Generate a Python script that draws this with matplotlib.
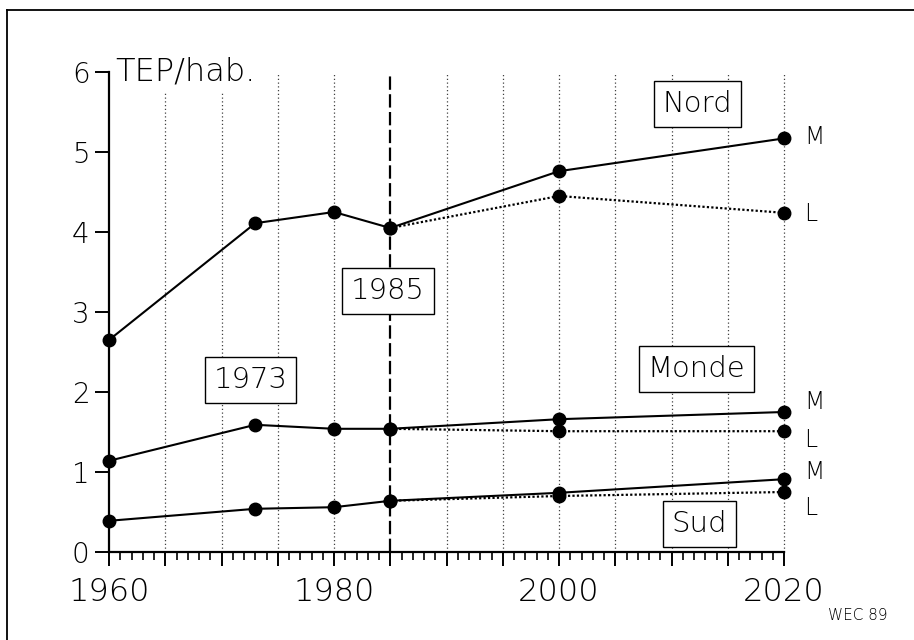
import numpy as np
import matplotlib.pyplot as plt
from matplotlib.ticker import MultipleLocator, FuncFormatter
from matplotlib.lines import Line2D

plt.rcParams.update({
    "font.family": "DejaVu Sans",
    "font.weight": "light",
})

# TEP par habitant, scénarios M et L
years_hist = [1960, 1973, 1980, 1985, 2000, 2020]
years_low = [1985, 2000, 2020]

nord_m = [2.65, 4.11, 4.25, 4.05, 4.76, 5.17]
nord_l = [4.05, 4.45, 4.24]
monde_m = [1.14, 1.59, 1.54, 1.54, 1.66, 1.75]
monde_l = [1.54, 1.51, 1.51]
sud_m = [0.39, 0.54, 0.56, 0.64, 0.74, 0.91]
sud_l = [0.64, 0.70, 0.75]

grid_years = [1965, 1970, 1975, 1980, 1990, 1995, 2000, 2005, 2010, 2015, 2020]

fig = plt.figure(figsize=(9.14, 6.4), dpi=100)
ax = fig.add_axes([109 / 914, 1 - 552 / 640, (784 - 109) / 914, (552 - 72) / 640])
ax.set_xlim(1960, 2020)
ax.set_ylim(0, 6)

for gx in grid_years:
    ax.plot([gx, gx], [0, 6], color="0.25", lw=0.9, ls=(0, (1, 2)), zorder=1, clip_on=False)
ax.plot([1985, 1985], [0, 6], color="black", lw=1.6, ls=(0, (6, 2)), zorder=1, clip_on=False)

for m, l in [(nord_m, nord_l), (monde_m, monde_l), (sud_m, sud_l)]:
    ax.plot(years_hist, m, color="black", lw=1.5, marker="o", ms=9, zorder=3, clip_on=False)
    ax.plot(years_low, l, color="black", lw=1.6, ls=(0, (1, 1)), marker="o", ms=9,
            zorder=3, clip_on=False)

# M / L labels at the right end
ml_labels = [("M", 5.19), ("L", 4.22), ("M", 1.87), ("L", 1.40), ("M", 1.00), ("L", 0.55)]
for txt, yv in ml_labels:
    ax.text(2021.8, yv, txt, fontsize=17, va="center", ha="left")

box = dict(boxstyle="square,pad=0.3", fc="white", ec="black", lw=1.0)
for txt, xv, yv in [("Nord", 2012.3, 5.6), ("1985", 1984.8, 3.26), ("1973", 1972.6, 2.15),
                    ("Monde", 2012.2, 2.29), ("Sud", 2012.5, 0.35)]:
    ax.text(xv, yv, txt, fontsize=21, ha="center", va="center", bbox=box, zorder=5)

ax.text(1960.6, 6.0, "TEP/hab.", fontsize=23, ha="left", va="center", zorder=5,
        bbox=dict(boxstyle="square,pad=0.15", fc="white", ec="none"))

for s in ["top", "right"]:
    ax.spines[s].set_visible(False)
for s in ["left", "bottom"]:
    ax.spines[s].set_linewidth(1.6)

ax.yaxis.set_major_locator(MultipleLocator(1))
ax.xaxis.set_major_locator(MultipleLocator(5))
ax.xaxis.set_minor_locator(MultipleLocator(1))
ax.xaxis.set_major_formatter(FuncFormatter(lambda v, p: f"{int(v)}" if int(v) % 20 == 0 else ""))
ax.tick_params(axis="y", direction="out", length=10, width=1.4, pad=4, labelsize=20)
ax.tick_params(axis="x", which="major", direction="out", length=10, width=1.4, pad=8, labelsize=23)
ax.tick_params(axis="x", which="minor", direction="out", length=6, width=1.2)

# outer frame (top and left edges)
fig.add_artist(Line2D([7 / 914, 1], [1 - 10 / 640, 1 - 10 / 640], color="black", lw=1.3))
fig.add_artist(Line2D([7 / 914, 7 / 914], [0, 1 - 10 / 640], color="black", lw=1.3))
fig.text(888 / 914, 1 - 616 / 640, "WEC 89", fontsize=11, ha="right", va="center")

fig.savefig("out.png", dpi=100)
